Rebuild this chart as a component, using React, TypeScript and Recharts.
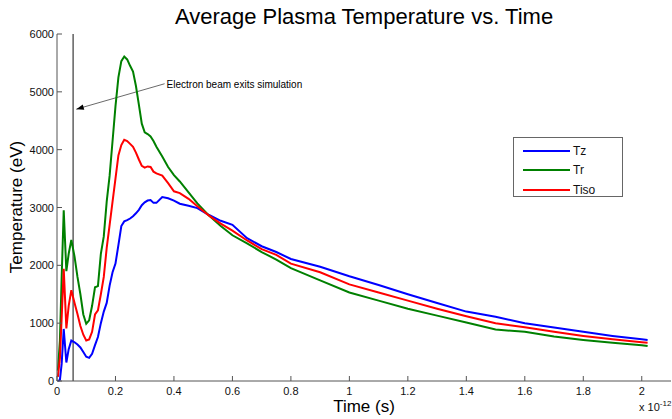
import React from 'react';
import { LineChart, Line, XAxis, YAxis, ReferenceLine, Legend } from 'recharts';

const times = [0.003, 0.01, 0.016, 0.023, 0.032, 0.04, 0.049, 0.06, 0.07, 0.08, 0.09, 0.1, 0.11, 0.12, 0.13, 0.14, 0.15, 0.16, 0.17, 0.18, 0.19, 0.2, 0.21, 0.22, 0.23, 0.24, 0.25, 0.26, 0.27, 0.28, 0.29, 0.3, 0.31, 0.32, 0.33, 0.34, 0.36, 0.38, 0.4, 0.42, 0.45, 0.48, 0.52, 0.56, 0.6, 0.65, 0.7, 0.75, 0.8, 0.9, 1.0, 1.1, 1.2, 1.3, 1.4, 1.5, 1.6, 1.7, 1.8, 1.9, 2.0, 2.02];

const tzValues = [0, 20, 300, 900, 320, 550, 700, 670, 630, 580, 500, 420, 400, 470, 620, 760, 1000, 1200, 1350, 1650, 1880, 2030, 2350, 2680, 2760, 2780, 2810, 2850, 2900, 2960, 3040, 3090, 3120, 3130, 3080, 3080, 3180, 3160, 3120, 3065, 3030, 2990, 2870, 2770, 2700, 2470, 2330, 2230, 2110, 1975, 1810, 1660, 1500, 1350, 1200, 1110, 1000, 925, 850, 780, 720, 710];

const trValues = [180, 700, 1800, 2950, 1900, 2200, 2440, 2150, 1800, 1500, 1150, 990, 1050, 1300, 1620, 1640, 2200, 2500, 3100, 3550, 4150, 4750, 5250, 5530, 5610, 5560, 5450, 5350, 5100, 4780, 4450, 4300, 4270, 4230, 4150, 4050, 3880, 3700, 3560, 3450, 3260, 3070, 2860, 2680, 2520, 2380, 2230, 2100, 1950, 1740, 1530, 1390, 1250, 1130, 1010, 890, 850, 770, 710, 660, 620, 605];

const tisoValues = [70, 400, 1100, 1940, 910, 1300, 1570, 1350, 1160, 950, 800, 700, 720, 850, 1150, 1220, 1500, 1800, 2300, 2700, 3100, 3500, 3900, 4080, 4170, 4150, 4100, 4050, 3950, 3830, 3720, 3690, 3710, 3700, 3620, 3590, 3550, 3420, 3280, 3250, 3150, 3020, 2860, 2720, 2600, 2430, 2280, 2180, 2030, 1880, 1670, 1530, 1390, 1250, 1120, 1000, 930, 850, 780, 720, 670, 660];

const seriesNames = ['Tz', 'Tr', 'Tiso'];
const xTicks = [0, 0.2, 0.4, 0.6, 0.8, 1, 1.2, 1.4, 1.6, 1.8, 2];
const yTicks = [0, 1000, 2000, 3000, 4000, 5000, 6000];

const beamExitTime = 0.055;
const arrowFrom = { x: 0.368, y: 5140 };
const arrowTo = { x: 0.066, y: 4700 };
const annotationText = 'Electron beam exits simulation';

const data = times.map((t, i) => ({ t, Tz: tzValues[i], Tr: trValues[i], Tiso: tisoValues[i] }));

const AXIS = '#555';
const FONT = '"Liberation Sans", Arial, sans-serif';

const XTick = (props: any) => {
  const { x, y, payload } = props;
  return (
    <g>
      <line x1={x} x2={x} y1={y} y2={y - 5} stroke={AXIS} />
      <text x={x} y={y + 14} textAnchor="middle" fontSize={11} fontFamily={FONT} fill="#111">
        {String(payload.value)}
      </text>
    </g>
  );
};

const YTick = (props: any) => {
  const { x, y, payload } = props;
  return (
    <g>
      <line x1={x} x2={x + 5} y1={y} y2={y} stroke={AXIS} />
      <text x={x - 3} y={y + 4} textAnchor="end" fontSize={11} fontFamily={FONT} fill="#111">
        {String(payload.value)}
      </text>
    </g>
  );
};

const ArrowShape = (props: any) => {
  const { x1, y1, x2, y2 } = props;
  if ([x1, y1, x2, y2].some((v) => typeof v !== 'number')) return null;
  const ang = Math.atan2(y2 - y1, x2 - x1);
  const len = 8;
  const spread = 0.35;
  const p1 = [x2 - len * Math.cos(ang - spread), y2 - len * Math.sin(ang - spread)];
  const p2 = [x2 - len * Math.cos(ang + spread), y2 - len * Math.sin(ang + spread)];
  return (
    <g>
      <line x1={x1} y1={y1} x2={x2} y2={y2} stroke="#444" strokeWidth={0.8} />
      <polygon points={`${x2},${y2} ${p1[0]},${p1[1]} ${p2[0]},${p2[1]}`} fill="#000" />
      <text x={x1 + 2} y={y1 + 4} fontSize={10} fontFamily={FONT} fill="#000">
        {annotationText}
      </text>
    </g>
  );
};

const LegendBox = (props: any) => {
  const items = [...(props.payload || [])].sort(
    (a: any, b: any) => seriesNames.indexOf(a.value) - seriesNames.indexOf(b.value)
  );
  return (
    <div
      style={{
        border: '1px solid #666',
        background: '#fff',
        width: 110,
        height: 60,
        boxSizing: 'border-box',
        paddingTop: 3,
        fontFamily: FONT,
        fontSize: 12,
      }}
    >
      {items.map((p: any) => (
        <div key={p.value} style={{ display: 'flex', alignItems: 'center', height: 19.5 }}>
          <div style={{ marginLeft: 9, width: 47, height: 2, background: p.color }} />
          <span style={{ marginLeft: 3, color: '#111' }}>{p.value}</span>
        </div>
      ))}
    </div>
  );
};

export default function App() {
  return (
    <div style={{ position: 'absolute', left: 0, top: 0, width: 672, height: 419, background: '#fff' }}>
      <LineChart width={672} height={419} data={data} margin={{ top: 34, right: 1, bottom: 0, left: 0 }}>
        <XAxis
          dataKey="t"
          type="number"
          domain={[0, 2.1]}
          ticks={xTicks}
          height={38}
          stroke={AXIS}
          tickLine={false}
          tickSize={0}
          tickMargin={0}
          tick={<XTick />}
          interval={0}
        />
        <XAxis
          xAxisId="top"
          dataKey="t"
          type="number"
          orientation="top"
          domain={[0, 2.1]}
          ticks={xTicks}
          height={0}
          mirror
          stroke={AXIS}
          tickSize={5}
          tick={false}
          interval={0}
        />
        <YAxis
          type="number"
          domain={[0, 6000]}
          ticks={yTicks}
          width={57}
          stroke={AXIS}
          tickLine={false}
          tickSize={0}
          tickMargin={0}
          tick={<YTick />}
          interval={0}
        />
        <YAxis
          yAxisId="right"
          type="number"
          orientation="right"
          domain={[0, 6000]}
          ticks={yTicks}
          width={0}
          mirror
          stroke={AXIS}
          tickSize={5}
          tick={false}
          interval={0}
        />
        <ReferenceLine x={beamExitTime} stroke="#111" strokeWidth={1} />
        <ReferenceLine segment={[arrowFrom, arrowTo]} shape={<ArrowShape />} ifOverflow="visible" />
        <Line dataKey="Tz" name="Tz" stroke="#0000FF" strokeWidth={2} dot={false} isAnimationActive={false} />
        <Line dataKey="Tr" name="Tr" stroke="#008000" strokeWidth={2} dot={false} isAnimationActive={false} />
        <Line dataKey="Tiso" name="Tiso" stroke="#FF0000" strokeWidth={2} dot={false} isAnimationActive={false} />
        <Legend
          layout="vertical"
          align="center"
          verticalAlign="middle"
          content={<LegendBox />}
          wrapperStyle={{ left: 513, top: 137, width: 110, height: 60 }}
        />
      </LineChart>
      <div
        style={{
          position: 'absolute',
          left: 57,
          width: 614,
          top: 4,
          textAlign: 'center',
          fontFamily: FONT,
          fontSize: 22,
          color: '#000',
          lineHeight: '26px',
        }}
      >
        Average Plasma Temperature vs. Time
      </div>
      <div
        style={{
          position: 'absolute',
          left: 57,
          width: 614,
          top: 398,
          textAlign: 'center',
          fontFamily: FONT,
          fontSize: 17,
          lineHeight: '18px',
          color: '#000',
        }}
      >
        Time (s)
      </div>
      <div
        style={{
          position: 'absolute',
          left: 17 - 100,
          top: 207 - 10,
          width: 200,
          height: 20,
          textAlign: 'center',
          transform: 'rotate(-90deg)',
          fontFamily: FONT,
          fontSize: 17,
          lineHeight: '20px',
          color: '#000',
        }}
      >
        Temperature (eV)
      </div>
      <div
        style={{
          position: 'absolute',
          left: 639,
          top: 401,
          fontFamily: FONT,
          fontSize: 11,
          lineHeight: '13px',
          color: '#111',
          whiteSpace: 'nowrap',
        }}
      >
        x 10<sup style={{ fontSize: 8, verticalAlign: 'top', position: 'relative', top: -4 }}>-12</sup>
      </div>
    </div>
  );
}
